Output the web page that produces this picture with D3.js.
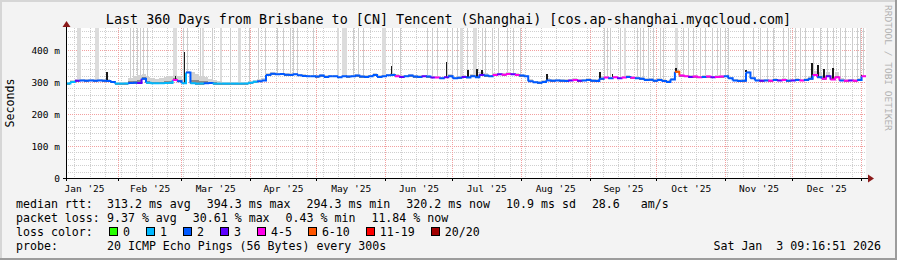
<!DOCTYPE html>
<html>
<head>
<meta charset="utf-8">
<script src="https://cdn.jsdelivr.net/npm/d3@7/dist/d3.min.js"></script>
<style>
  body { margin: 0; background: #f3f3f3; }
  svg { display: block; font-family: "DejaVu Sans Mono", monospace; }
</style>
</head>
<body>
<svg id="chart" width="897" height="260"></svg>
<script>
// ---- data (one sample every 2 days from the start) ----
const startDate = new Date(2025, 0, 8, 9, 16, 51);
const endDate = new Date(2026, 0, 3, 9, 16, 51);
const stepDays = 2;

const medianMs = [
  295,300,304,305,304,305,304,305,304,303,
  300,295,295,295,297,298,297,310,298,296,
  296,296,297,298,306,302,296,330,296,295,
  295,296,297,295,295,295,295,295,295,295,
  295,298,301,302,305,322,326,324,325,323,
  322,324,321,319,318,318,317,320,316,318,
  318,315,318,317,318,320,317,316,318,322,
  316,318,321,322,318,316,318,320,317,316,
  318,317,314,314,312,315,318,312,313,316,
  314,318,315,322,320,318,322,324,323,325,
  324,322,320,318,302,299,298,300,305,304,
  305,304,303,305,306,304,305,306,304,303,
  310,314,312,315,312,314,316,313,312,310,
  306,307,304,306,303,300,308,332,320,318,
  316,317,315,316,317,315,316,317,318,312,
  305,303,304,330,312,305,304,305,304,306,
  305,306,304,305,306,305,306,310,322,315,
  310,318,308,315,305,304,305,304,306,318
];

// loss class: 0=0, 1=1, 2=2, 3=3, 4=4-5, 5=6-10, 6=11-19, 7=20/20
const lossClass = [
  1,1,3,2,2,2,2,2,2,2,
  2,1,1,1,2,2,3,2,1,1,
  1,1,1,1,4,2,1,2,1,1,
  1,2,2,1,1,1,1,1,1,1,
  1,1,1,2,2,2,2,2,2,2,
  2,2,2,2,2,2,2,2,2,2,
  2,2,2,2,2,2,2,2,2,2,
  2,2,2,2,4,3,2,2,2,2,
  3,2,3,4,2,3,2,2,2,3,
  2,2,2,3,2,2,4,3,4,4,
  3,4,2,2,2,2,2,2,2,2,
  2,2,2,3,4,3,2,2,2,2,
  2,4,2,4,3,4,2,4,2,2,
  2,2,2,2,2,2,2,5,4,4,
  3,4,4,2,4,3,4,4,2,2,
  2,2,2,2,2,2,3,2,4,2,
  3,4,2,3,2,4,2,2,4,2,
  4,3,4,4,2,4,3,4,2,4
];

// upper edge of the grey smoke around the median
const smokeHighMs = [
  300,305,308,309,308,309,308,309,308,308,
  304,299,299,300,312,318,322,325,316,312,
  310,312,315,318,322,318,310,335,330,325,
  318,315,310,306,302,301,301,300,300,301,
  300,303,306,308,312,328,330,329,329,328,
  327,328,326,324,323,322,322,324,321,323,
  323,320,323,322,323,325,322,321,323,327,
  321,323,326,327,326,321,323,325,322,321,
  323,322,319,319,317,320,326,317,318,321,
  319,326,320,330,328,323,327,329,328,330,
  329,327,325,323,308,304,303,305,312,309,
  310,309,308,310,311,309,310,311,309,308,
  318,320,317,320,317,319,321,318,317,315,
  311,312,309,311,308,305,313,338,325,323,
  321,322,320,321,322,320,321,322,323,317,
  310,308,309,335,317,310,309,310,309,311,
  310,311,309,310,311,310,311,318,335,330,
  322,330,318,330,312,309,310,309,311,323
];

// dark smoke peaks (days after start, top in ms)
const peakDays = [18.5, 49.3, 53.3, 146.5, 171.2, 180.9, 185, 187.2, 216.5, 240.3, 246, 274.5, 306, 335.7, 338.4, 341, 345.2, 358];
const peakMs   = [331, 318, 394, 350, 362, 337, 340, 338, 325, 330, 325, 345, 338, 358, 352, 340, 345, 322];

// single pings far off the scale (thin light lines), days after start
const outlierDays = [28.8,30.2,32,33.3,34.7,36.5,52.7,54.5,60.3,65.7,73.8,82.4,86.4,89.6,95,97.7,100.8,102.2,104,
  111.2,129.2,131.4,133.7,146.7,150.3,162.5,164.7,167,171.5,173.7,176,180.5,187.2,188.6,191.7,194.4,198.5,201,204.3,
  242,243.5,244.8,249.3,257,258.3,259.7,262,264,267.3,268.7,277.7,280,282.2,285.3,287.6,290.7,293,294.3,296.6,298,
  304.7,309.2,312.3,315.5,318.2,322.7,325,328,330.3,332.6,336.2,339.3,342.5,345.2,348.3,350.6,353.7,356,357.3,358.7];
const outlierBandStart = [5, 13, 48.2, 61.2, 69.3, 77.4, 122, 124.2, 142.2, 177.3, 183.2, 251, 274];
const outlierBandEnd   = [6.8, 14.9, 50, 61.9, 70.2, 78.8, 123, 126.5, 144, 178.7, 185, 252, 275.4];

const yTicks = [0, 100, 200, 300, 400];
const monthLabels = ["Jan '25","Feb '25","Mar '25","Apr '25","May '25","Jun '25","Jul '25","Aug '25","Sep '25","Oct '25","Nov '25","Dec '25"];

const lossNames = ["0","1","2","3","4-5","6-10","11-19","20/20"];
const lossColors = ["#26ff00","#00b8ff","#0059ff","#5e00ff","#ff00ea","#ff5500","#ff0000","#a10000"];

const titleText = "Last 360 Days from Brisbane to [CN] Tencent (Shanghai) [cos.ap-shanghai.myqcloud.com]";
const rttItems = ["313.2 ms avg", "394.3 ms max", "294.3 ms min", "320.2 ms now", "10.9 ms sd", "28.6   am/s"];
const lossItems = ["9.37 % avg", "30.61 % max", "0.43 % min", "11.84 % now"];
const probeText = "20 ICMP Echo Pings (56 Bytes) every 300s";
const stampText = "Sat Jan  3 09:16:51 2026";

// ---- layout ----
const W = 897, H = 260;
const pLeft = 66, pRight = 866, pTop = 28, pBottom = 178;
const svg = d3.select("#chart");

const dayMs = 864e5;
const dayToDate = d => new Date(startDate.getTime() + d * dayMs);

const x = d3.scaleTime().domain([startDate, endDate]).range([pLeft, pRight]);
const y = d3.scaleLinear().domain([0, 468.75]).range([pBottom, pTop]);

// frame
svg.append("rect").attr("width", W).attr("height", H).attr("fill", "#f3f3f3");
svg.append("path").attr("d", `M1,${H} V1 H${W}`).attr("stroke", "#d6d6d6").attr("stroke-width", 2).attr("fill", "none");
svg.append("path").attr("d", `M0,${H-1} H${W-1} V0`).attr("stroke", "#9c9c9c").attr("stroke-width", 2).attr("fill", "none");

svg.append("rect").attr("x", pLeft).attr("y", pTop).attr("width", pRight - pLeft).attr("height", pBottom - pTop).attr("fill", "#fff");

// grid
const grid = svg.append("g").attr("shape-rendering", "crispEdges");
const minorY = d3.range(20, 468, 20).filter(v => v % 100 !== 0);
grid.selectAll(".hmin").data(minorY).enter().append("line")
  .attr("x1", pLeft).attr("x2", pRight)
  .attr("y1", d => Math.round(y(d)) + 0.5).attr("y2", d => Math.round(y(d)) + 0.5)
  .attr("stroke", "#cfcfcf").attr("stroke-dasharray", "1,1");
const weeks = d3.timeSunday.range(startDate, endDate).filter(d => d.getDate() !== 1);
grid.selectAll(".vmin").data(weeks).enter().append("line")
  .attr("x1", d => Math.round(x(d)) + 0.5).attr("x2", d => Math.round(x(d)) + 0.5)
  .attr("y1", pTop).attr("y2", pBottom)
  .attr("stroke", "#cfcfcf").attr("stroke-dasharray", "1,1");
grid.selectAll(".hmaj").data(yTicks.filter(v => v > 0)).enter().append("line")
  .attr("x1", pLeft).attr("x2", pRight)
  .attr("y1", d => Math.round(y(d)) + 0.5).attr("y2", d => Math.round(y(d)) + 0.5)
  .attr("stroke", "#f2a0a0").attr("stroke-dasharray", "1,1");
const months = d3.timeMonth.range(startDate, endDate);
grid.selectAll(".vmaj").data(months).enter().append("line")
  .attr("x1", d => Math.round(x(d)) + 0.5).attr("x2", d => Math.round(x(d)) + 0.5)
  .attr("y1", pTop).attr("y2", pBottom)
  .attr("stroke", "#f2a0a0").attr("stroke-dasharray", "1,1");

// smoke
const medianAt = d => medianMs[Math.min(medianMs.length - 1, Math.floor(d / stepDays))];
const smoke = svg.append("g").attr("shape-rendering", "crispEdges");
smoke.selectAll(".band").data(outlierBandStart).enter().append("rect")
  .attr("x", d => x(dayToDate(d)))
  .attr("width", (d, i) => Math.max(1, x(dayToDate(outlierBandEnd[i])) - x(dayToDate(d))))
  .attr("y", pTop)
  .attr("height", d => y(medianAt(d)) - pTop)
  .attr("fill", "#dcdcdc");
smoke.selectAll(".out").data(outlierDays).enter().append("line")
  .attr("x1", d => Math.round(x(dayToDate(d))) + 0.5).attr("x2", d => Math.round(x(dayToDate(d))) + 0.5)
  .attr("y1", pTop).attr("y2", d => y(medianAt(d)))
  .attr("stroke", "#cccccc");

const seg = medianMs.map((m, i) => ({
  x0: x(dayToDate(i * stepDays)),
  x1: x(dayToDate(Math.min((i + 1) * stepDays, 360))),
  m: m, hi: smokeHighMs[i], loss: lossClass[i]
}));
smoke.selectAll(".sm").data(seg).enter().append("rect")
  .attr("x", d => d.x0).attr("width", d => d.x1 - d.x0)
  .attr("y", d => y(d.hi)).attr("height", d => y(d.m - 3) - y(d.hi))
  .attr("fill", "#d2d2d2");
smoke.selectAll(".smd").data(seg).enter().append("rect")
  .attr("x", d => d.x0).attr("width", d => d.x1 - d.x0)
  .attr("y", d => y(d.m + (d.hi - d.m) / 3)).attr("height", d => y(d.m - 3) - y(d.m + (d.hi - d.m) / 3))
  .attr("fill", "#8a8a8a");
smoke.selectAll(".pk").data(peakDays).enter().append("line")
  .attr("x1", d => x(dayToDate(d))).attr("x2", d => x(dayToDate(d)))
  .attr("y1", d => y(medianAt(d))).attr("y2", (d, i) => y(peakMs[i]))
  .attr("stroke", "#1a1a1a").attr("stroke-width", 1.6);

// median line, coloured by loss
svg.append("g").selectAll("path").data(seg).enter().append("path")
  .attr("d", (d, i) => {
    const next = i < seg.length - 1 ? y(seg[i + 1].m) : y(d.m);
    return `M${d.x0},${y(d.m)} H${d.x1} V${next}`;
  })
  .attr("fill", "none").attr("stroke", d => lossColors[d.loss]).attr("stroke-width", 2);

// axes
const yAxis = d3.axisLeft(y).tickValues(yTicks).tickSize(0).tickPadding(6)
  .tickFormat(d => d === 0 ? "0" : d + " m");
const gy = svg.append("g").attr("transform", `translate(${pLeft},0)`).call(yAxis);
gy.select(".domain").remove();
gy.selectAll("text").attr("font-family", "DejaVu Sans Mono").attr("font-size", "9.5px").attr("fill", "#000");

const labelDates = d3.timeMonth.range(new Date(2025, 0, 1), new Date(2026, 0, 1))
  .map(d => new Date((d.getTime() + d3.timeMonth.offset(d, 1).getTime()) / 2));
const xAxis = d3.axisBottom(x).tickValues(labelDates).tickSize(0).tickPadding(7)
  .tickFormat((d, i) => monthLabels[i]);
const gx = svg.append("g").attr("transform", `translate(0,${pBottom})`).call(xAxis);
gx.select(".domain").remove();
gx.selectAll("text").attr("font-family", "DejaVu Sans Mono").attr("font-size", "9.5px").attr("fill", "#000");

svg.append("g").selectAll("line").data(months).enter().append("line")
  .attr("x1", d => Math.round(x(d)) + 0.5).attr("x2", d => Math.round(x(d)) + 0.5)
  .attr("y1", pBottom).attr("y2", pBottom + 3).attr("stroke", "#000");

svg.append("line").attr("x1", pLeft - 3).attr("x2", pRight + 3).attr("y1", pBottom + 0.5).attr("y2", pBottom + 0.5)
  .attr("stroke", "#000").attr("shape-rendering", "crispEdges");
svg.append("line").attr("x1", pLeft + 0.5).attr("x2", pLeft + 0.5).attr("y1", pBottom + 3).attr("y2", pTop - 2)
  .attr("stroke", "#000").attr("shape-rendering", "crispEdges");
svg.append("path").attr("d", `M${pRight + 2},${pBottom - 3.5} L${pRight + 8},${pBottom + 0.5} L${pRight + 2},${pBottom + 4.5} Z`).attr("fill", "#8b1a1a");
svg.append("path").attr("d", `M${pLeft - 3.5},${pTop - 1} L${pLeft + 0.5},${pTop - 7} L${pLeft + 4.5},${pTop - 1} Z`).attr("fill", "#8b1a1a");

// texts
svg.append("text").attr("x", W / 2).attr("y", 23.5).attr("text-anchor", "middle")
  .attr("font-size", "13.4px").attr("fill", "#000").text(titleText);
svg.append("text").attr("transform", `translate(14,${(pTop + pBottom) / 2}) rotate(-90)`)
  .attr("text-anchor", "middle").attr("font-size", "11.6px").attr("fill", "#000").text("Seconds");
svg.append("text").attr("transform", `translate(885,5) rotate(90)`)
  .attr("font-size", "9.5px").attr("fill", "#b0b0b0").text("RRDTOOL / TOBI OETIKER");

// legend
const lg = svg.append("g").attr("font-size", "11.6px").attr("fill", "#000").style("white-space", "pre");
const rowY = [208, 222, 236, 250];
const gap = 16;
function rowItems(yy, label, items) {
  lg.append("text").attr("x", 16).attr("y", yy).text(label);
  let xx = 107;
  items.forEach(s => {
    const t = lg.append("text").attr("x", xx).attr("y", yy).attr("xml:space", "preserve").text(s);
    xx += t.node().getComputedTextLength() + gap;
  });
}
rowItems(rowY[0], "median rtt:", rttItems);
rowItems(rowY[1], "packet loss:", lossItems);

lg.append("text").attr("x", 16).attr("y", rowY[2]).text("loss color:");
let lx = 109;
lossNames.forEach((n, i) => {
  lg.append("rect").attr("x", lx + 0.5).attr("y", rowY[2] - 8.5).attr("width", 8).attr("height", 8)
    .attr("fill", lossColors[i]).attr("stroke", "#000").attr("shape-rendering", "crispEdges");
  const t = lg.append("text").attr("x", lx + 14).attr("y", rowY[2]).text(n);
  lx += 14 + t.node().getComputedTextLength() + gap;
});

lg.append("text").attr("x", 16).attr("y", rowY[3]).text("probe:");
lg.append("text").attr("x", 107).attr("y", rowY[3]).text(probeText);
lg.append("text").attr("x", 881).attr("y", rowY[3]).attr("text-anchor", "end").attr("xml:space", "preserve").text(stampText);
</script>
</body>
</html>
